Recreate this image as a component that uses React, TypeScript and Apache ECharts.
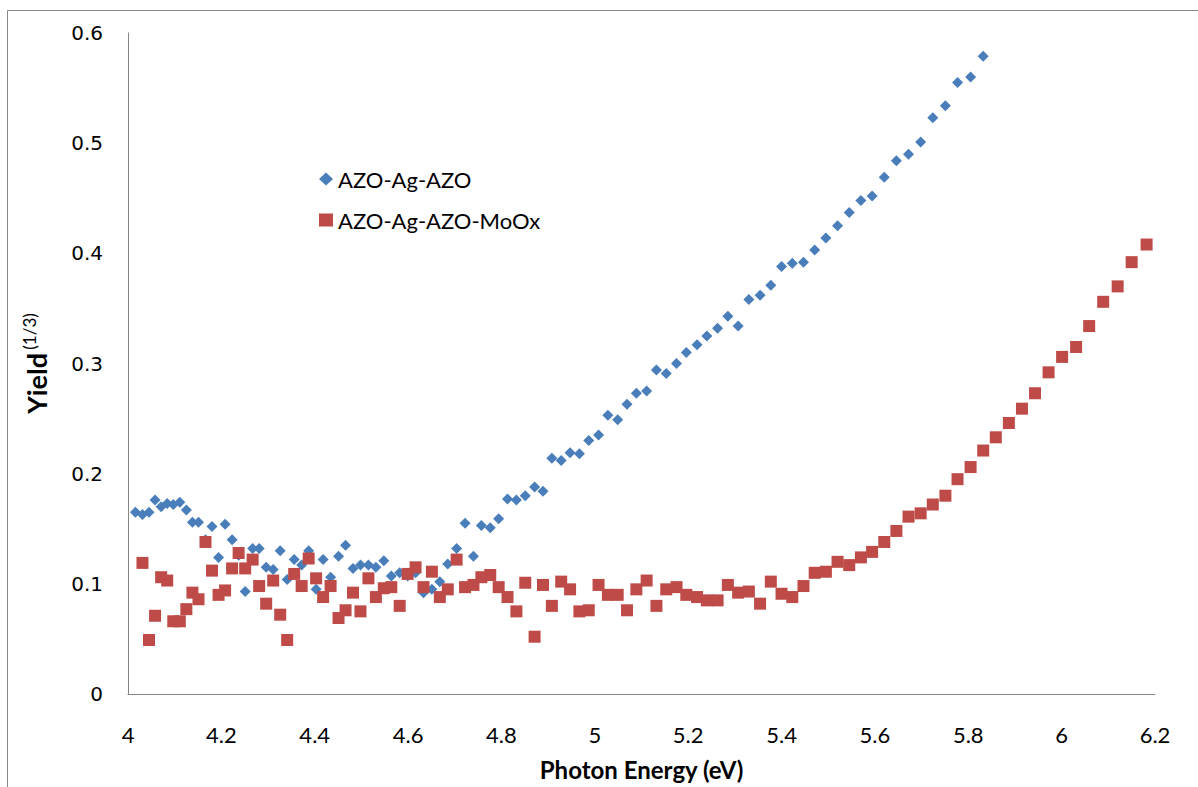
import React, { useEffect, useRef } from "react";
import * as echarts from "echarts";

// Photon energy grid (eV), shared by both samples
const energy = [
  4.016, 4.031, 4.045, 4.058, 4.071, 4.084, 4.097, 4.111, 4.125, 4.138,
  4.151, 4.166, 4.180, 4.194, 4.208, 4.223, 4.237, 4.251, 4.267, 4.281,
  4.296, 4.311, 4.326, 4.341, 4.356, 4.372, 4.387, 4.403, 4.418, 4.434,
  4.451, 4.466, 4.482, 4.498, 4.515, 4.531, 4.548, 4.564, 4.582, 4.599,
  4.616, 4.633, 4.651, 4.668, 4.685, 4.704, 4.722, 4.740, 4.757, 4.776,
  4.794, 4.813, 4.832, 4.851, 4.871, 4.889, 4.908, 4.928, 4.947, 4.967,
  4.987, 5.008, 5.028, 5.049, 5.069, 5.089, 5.111, 5.132, 5.153, 5.175,
  5.196, 5.219, 5.240, 5.263, 5.285, 5.307, 5.330, 5.354, 5.377, 5.400,
  5.423, 5.447, 5.471, 5.495, 5.520, 5.545, 5.570, 5.594, 5.620, 5.646,
  5.672, 5.698, 5.724, 5.751, 5.777, 5.805, 5.832, 5.859, 5.887, 5.915,
  5.943, 5.972, 6.001, 6.031, 6.059, 6.089, 6.120, 6.150, 6.182,
];

// AZO-Ag-AZO yield^(1/3): starts at energy[0]
const yieldAZO = [
  0.165, 0.163, 0.165, 0.176, 0.170, 0.173, 0.172, 0.174, 0.167, 0.156,
  0.156, 0.140, 0.152, 0.124, 0.154, 0.140, 0.126, 0.093, 0.132, 0.132,
  0.115, 0.113, 0.130, 0.104, 0.122, 0.117, 0.130, 0.095, 0.122, 0.106,
  0.125, 0.135, 0.114, 0.117, 0.117, 0.115, 0.121, 0.107, 0.110, 0.107,
  0.110, 0.092, 0.095, 0.102, 0.118, 0.132, 0.155, 0.125, 0.153, 0.151,
  0.159, 0.177, 0.176, 0.180, 0.188, 0.184, 0.214, 0.212, 0.219, 0.218,
  0.230, 0.235, 0.253, 0.249, 0.263, 0.273, 0.275, 0.294, 0.291, 0.300,
  0.310, 0.317, 0.325, 0.332, 0.343, 0.334, 0.358, 0.362, 0.371, 0.388,
  0.391, 0.392, 0.403, 0.414, 0.425, 0.437, 0.448, 0.452, 0.469, 0.484,
  0.490, 0.501, 0.523, 0.534, 0.555, 0.560, 0.579,
];

// AZO-Ag-AZO-MoOx yield^(1/3): starts at energy[1]
const yieldMoOx = [
  0.119, 0.049, 0.071, 0.106, 0.103, 0.066, 0.066, 0.077, 0.092,
  0.086, 0.138, 0.112, 0.090, 0.094, 0.114, 0.128, 0.114, 0.122, 0.098,
  0.082, 0.103, 0.072, 0.049, 0.109, 0.098, 0.123, 0.105, 0.088, 0.098,
  0.069, 0.076, 0.092, 0.075, 0.105, 0.088, 0.096, 0.097, 0.080, 0.109,
  0.115, 0.097, 0.111, 0.088, 0.095, 0.122, 0.097, 0.099, 0.106, 0.108,
  0.097, 0.088, 0.075, 0.101, 0.052, 0.099, 0.080, 0.102, 0.095, 0.075,
  0.076, 0.099, 0.090, 0.090, 0.076, 0.095, 0.103, 0.080, 0.095, 0.097,
  0.090, 0.088, 0.085, 0.085, 0.099, 0.092, 0.093, 0.082, 0.102, 0.091,
  0.088, 0.098, 0.110, 0.111, 0.120, 0.117, 0.124, 0.129, 0.138, 0.148,
  0.161, 0.164, 0.172, 0.180, 0.195, 0.206, 0.221, 0.233, 0.246, 0.259,
  0.273, 0.292, 0.306, 0.315, 0.334, 0.356, 0.370, 0.392, 0.408,
];

const seriesNames = ["AZO-Ag-AZO", "AZO-Ag-AZO-MoOx"];
const colors = ["#4A7EBB", "#BE4B48"];

export default function App() {
  const ref = useRef<HTMLDivElement>(null);

  useEffect(() => {
    if (!ref.current) return;
    const chart = echarts.init(ref.current, null, { renderer: "svg" });

    const blueData = yieldAZO.map((v, i) => [energy[i], v]);
    const redData = yieldMoOx.map((v, i) => [energy[i + 1], v]);

    const axisLine = { show: true, lineStyle: { color: "#868686", width: 1 } };

    chart.setOption({
      animation: false,
      backgroundColor: "#ffffff",
      grid: {
        left: 128,
        right: 43,
        top: 33,
        bottom: 93,
        containLabel: false,
        outerBoundsMode: "none",
      },
      legend: {
        orient: "vertical",
        left: 314,
        top: 162,
        itemWidth: 14,
        itemHeight: 13,
        itemGap: 17,
        textStyle: {
          fontFamily: "Lato",
          fontSize: 22,
          color: "#000000",
          lineHeight: 24,
        },
        data: [
          { name: seriesNames[0], icon: "diamond" },
          { name: seriesNames[1], icon: "rect" },
        ],
      },
      graphic: [
        {
          type: "rect",
          shape: { x: 7.5, y: 10.5, width: 1400, height: 1000 },
          style: { fill: "none", stroke: "#898989", lineWidth: 1 },
          silent: true,
          z: -1,
        },
      ],
      xAxis: {
        type: "value",
        min: 4,
        max: 6.2,
        interval: 0.2,
        name: "Photon Energy (eV)",
        nameLocation: "middle",
        nameGap: 63,
        nameTextStyle: {
          fontFamily: "Lato",
          fontWeight: "bold",
          fontSize: 24,
          color: "#000000",
        },
        axisLine,
        axisTick: { show: false },
        splitLine: { show: false },
        axisLabel: {
          margin: 29,
          fontFamily: "Lato",
          fontSize: 22,
          color: "#000000",
          showMinLabel: true,
          showMaxLabel: true,
        },
      },
      yAxis: {
        type: "value",
        min: 0,
        max: 0.6,
        interval: 0.1,
        name: "{a|Yield} {b|(1/3)}",
        nameLocation: "middle",
        nameRotate: 90,
        nameGap: 77,
        nameTextStyle: {
          color: "#000000",
          rich: {
            a: {
              fontFamily: "Lato",
              fontWeight: "bold",
              fontSize: 27,
              color: "#000000",
              lineHeight: 30,
            },
            b: {
              fontFamily: "Lato",
              fontSize: 17,
              color: "#000000",
              verticalAlign: "top",
              lineHeight: 30,
            },
          },
        },
        axisLine,
        axisTick: { show: false },
        splitLine: { show: false },
        axisLabel: {
          margin: 25,
          fontFamily: "DejaVu Sans",
          fontSize: 20,
          color: "#000000",
          showMinLabel: true,
          showMaxLabel: true,
        },
      },
      series: [
        {
          name: seriesNames[0],
          type: "scatter",
          symbol: "diamond",
          symbolSize: 11,
          itemStyle: { color: colors[0], opacity: 1 },
          data: blueData,
          z: 2,
        },
        {
          name: seriesNames[1],
          type: "scatter",
          symbol: "rect",
          symbolSize: 12,
          itemStyle: { color: colors[1], opacity: 1 },
          data: redData,
          z: 3,
        },
      ],
    });

    return () => chart.dispose();
  }, []);

  return (
    <div
      ref={ref}
      style={{ position: "fixed", left: 0, top: 0, width: 1198, height: 787 }}
    />
  );
}
